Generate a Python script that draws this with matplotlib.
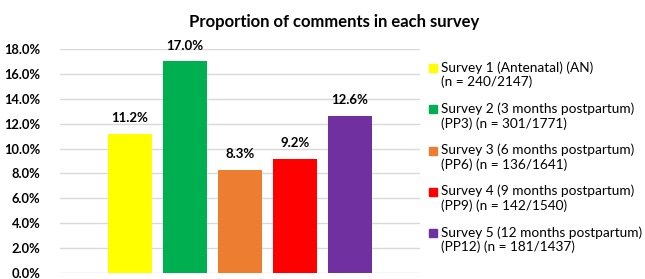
import numpy as np
import matplotlib
matplotlib.use('Agg')
import matplotlib.pyplot as plt
from matplotlib.patches import Rectangle

plt.rcParams['font.family'] = ['Lato', 'DejaVu Sans']

surveys = ['Survey 1 (Antenatal) (AN)\n(n = 240/2147)',
           'Survey 2 (3 months postpartum)\n(PP3) (n = 301/1771)',
           'Survey 3 (6 months postpartum)\n(PP6) (n = 136/1641)',
           'Survey 4 (9 months postpartum)\n(PP9) (n = 142/1540)',
           'Survey 5 (12 months postpartum)\n(PP12) (n = 181/1437)']
values = [11.2, 17.0, 8.3, 9.2, 12.6]
colors = ['#FFFF00', '#00B050', '#ED7D31', '#FF0000', '#7030A0']
yticks = [0, 2, 4, 6, 8, 10, 12, 14, 16, 18]

W, H = 645, 279
fig = plt.figure(figsize=(W / 100, H / 100), dpi=100)
ax = fig.add_axes([60 / W, 1 - 273 / H, 360 / W, (273 - 49) / H])

x = np.arange(len(values))
ax.bar(x, values, width=0.8, color=colors, zorder=3)
for xi, v in zip(x, values):
    ax.annotate(f'{v:.1f}%', (xi, v), xytext=(0, 7), textcoords='offset points',
                ha='center', va='bottom', fontsize=9.5, fontweight='bold')

ax.set_xlim(-1.27, 5.27)
ax.set_ylim(0, 18)
ax.set_yticks(yticks)
ax.set_yticklabels([f'{t:.1f}%' for t in yticks], fontsize=9.3, fontweight='bold')
ax.set_xticks([])
ax.tick_params(axis='y', length=0, pad=14)
ax.grid(axis='y', color='#d9d9d9', linewidth=1, zorder=0)
for s in ax.spines.values():
    s.set_visible(False)

fig.text(334 / W, 1 - 22 / H, 'Proportion of comments in each survey',
         ha='center', va='center', fontsize=12, fontweight='bold')

# legend drawn by hand so the swatch sits on the first text line
y0, step = 68, 41.3
for i, (lab, c) in enumerate(zip(surveys, colors)):
    yc = y0 + i * step
    fig.patches.append(Rectangle((429 / W, 1 - (yc + 4) / H), 8 / W, 8 / H,
                                 transform=fig.transFigure, color=c))
    fig.text(441 / W, 1 - (yc - 7) / H, lab, ha='left', va='top',
             fontsize=9.8, linespacing=1.2)

fig.savefig('out.png', dpi=100)
